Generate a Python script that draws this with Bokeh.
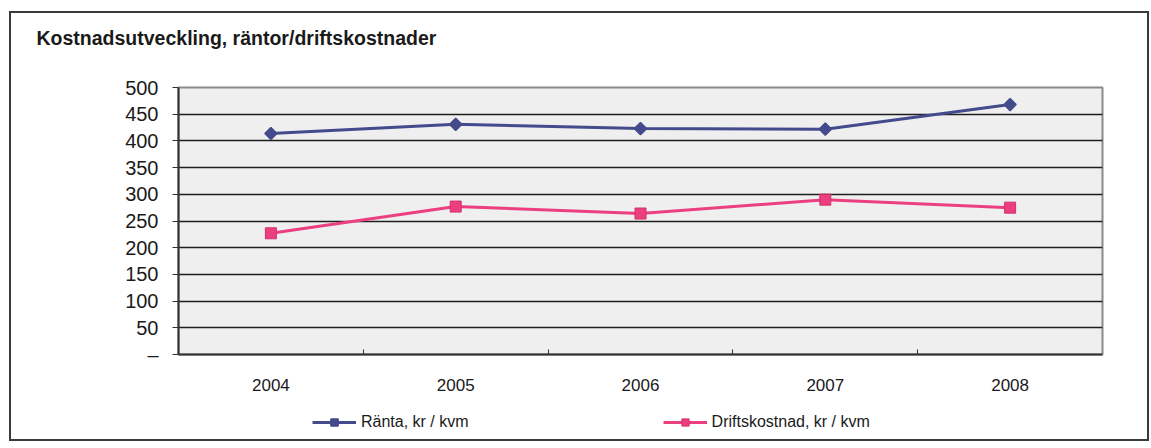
import math
from bokeh.plotting import figure
from bokeh.layouts import column
from bokeh.models import Range1d, FixedTicker, Legend, LegendItem
from bokeh.embed import file_html
from bokeh.resources import INLINE

title_text = "Kostnadsutveckling, räntor/driftskostnader"
years = ["2004", "2005", "2006", "2007", "2008"]
ranta = [414, 431, 423, 422, 468]
drift = [227, 277, 264, 290, 275]
y_ticks = [0, 50, 100, 150, 200, 250, 300, 350, 400, 450, 500]
series_labels = ["Ränta, kr / kvm", "Driftskostnad, kr / kvm"]

xs = [i + 0.5 for i in range(len(years))]

FONT = "Liberation Sans"
c1 = "#434b8c"
c2 = "#ec3f80"
c2_edge = "#d3306c"

bc = "#3a3a3a"
border_css = ", ".join([
    f"linear-gradient({bc},{bc}) 10px 11px / 1139px 2px no-repeat",
    f"linear-gradient({bc},{bc}) 10px 439px / 1139px 2px no-repeat",
    f"linear-gradient({bc},{bc}) 9px 11px / 2px 430px no-repeat",
    f"linear-gradient({bc},{bc}) 1147px 11px / 2px 430px no-repeat",
])

def strip(height, **kw):
    f = figure(width=1151, height=height, output_backend="svg", toolbar_location=None,
               x_range=Range1d(0, 1), y_range=Range1d(-2, -1),
               x_axis_location=None, y_axis_location=None,
               min_border_left=178, min_border_right=49, **kw)
    f.grid.grid_line_color = None
    f.outline_line_color = None
    f.background_fill_alpha = 0
    f.border_fill_alpha = 0
    return f

# title strip
top = strip(60, title=title_text, min_border_top=53, min_border_bottom=0)
top.title.text_font = FONT
top.title.text_font_size = "19.5px"
top.title.text_font_style = "bold"
top.title.text_color = "#1a1a1a"
top.title.align = "left"
top.title.offset = -142
top.title.standoff = 10

# main chart
p = figure(width=1151, height=340, output_backend="svg", toolbar_location=None, title=None,
           x_range=Range1d(0, len(years)), y_range=Range1d(0, 500),
           min_border_left=178, min_border_right=49, min_border_top=27, min_border_bottom=46)
p.background_fill_color = "#efefef"
p.border_fill_alpha = 0
p.outline_line_color = "#8a8a8a"
p.outline_line_width = 2

# y axis
p.yaxis.ticker = FixedTicker(ticks=y_ticks)
p.yaxis.major_label_overrides = {0: "–"}
p.yaxis.major_label_text_font = FONT
p.yaxis.major_label_text_font_size = "20px"
p.yaxis.major_label_text_color = "#1a1a1a"
p.yaxis.axis_line_color = "#333333"
p.yaxis.axis_line_width = 2
p.yaxis.major_tick_in = 0
p.yaxis.major_tick_out = 6
p.yaxis.major_tick_line_color = "#333333"
p.yaxis.minor_tick_line_color = None
p.yaxis.major_label_standoff = 14

# x axis: labels at category centres, tick marks at category boundaries
p.xaxis.ticker = FixedTicker(ticks=xs, minor_ticks=list(range(1, len(years))))
p.xaxis.major_label_overrides = {x: y for x, y in zip(xs, years)}
p.xaxis.major_label_text_font = FONT
p.xaxis.major_label_text_font_size = "17px"
p.xaxis.major_label_text_color = "#1a1a1a"
p.xaxis.axis_line_color = "#333333"
p.xaxis.axis_line_width = 2
p.xaxis.major_tick_line_color = None
p.xaxis.minor_tick_in = 5
p.xaxis.minor_tick_out = 0
p.xaxis.minor_tick_line_color = "#333333"
p.xaxis.major_label_standoff = 18

p.xgrid.grid_line_color = None
p.ygrid.ticker = FixedTicker(ticks=y_ticks)
p.ygrid.grid_line_color = "#1e1e1e"
p.ygrid.grid_line_width = 1.3

def draw(fig, x, y):
    a = fig.line(x, y[0], line_color=c1, line_width=3)
    b = fig.scatter(x, y[0], marker="square", angle=math.pi / 4, size=8.5,
                    fill_color=c1, line_color=c1, line_width=1.5)
    c = fig.line(x, y[1], line_color=c2, line_width=3)
    d = fig.scatter(x, y[1], marker="square", size=11, fill_color=c2, line_color=c2_edge, line_width=1)
    return a, b, c, d

draw(p, xs, [ranta, drift])

# legend strip below the chart: same series, outside this strip's visible range,
# so only their legend entries are seen
leg = strip(48, title=None, min_border_top=0, min_border_bottom=0)
r1, r2, r3, r4 = draw(leg, xs, [ranta, drift])

legend = Legend(items=[LegendItem(label=series_labels[0], renderers=[r1, r2]),
                       LegendItem(label=series_labels[1], renderers=[r3, r4])],
                orientation="horizontal", location=(134, 17),
                glyph_width=44, glyph_height=18, label_standoff=5, spacing=194,
                padding=0, margin=0, border_line_color=None, background_fill_alpha=0,
                label_text_font=FONT, label_text_font_size="16px", label_text_color="#1a1a1a",
                label_height=18)
leg.add_layout(legend, "center")

layout = column(top, p, leg, spacing=0, styles={"background": border_css + ", white"})

open("out.html", "w").write(file_html(layout, INLINE))
